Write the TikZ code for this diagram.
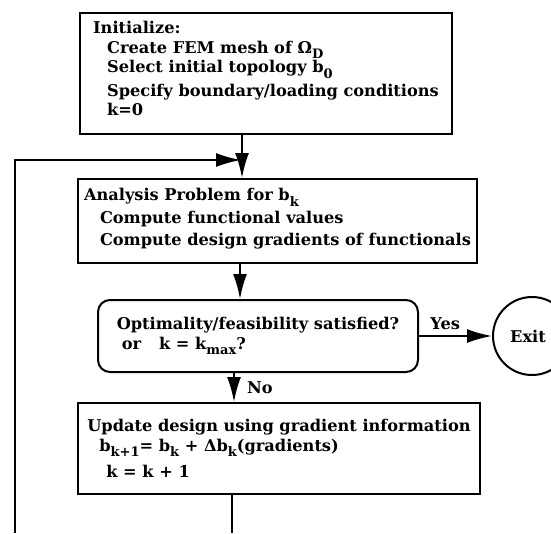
\documentclass[tikz,border=0pt]{standalone}
\usepackage{fontspec}
\setmainfont{DejaVu Serif}
\usetikzlibrary{arrows.meta}
\tikzset{every node/.style={font=\fontsize{16.2}{20.5}\selectfont\bfseries},
 procbox/.style={draw,line width=2pt,align=left,inner sep=0pt},
 testbox/.style={procbox,rounded corners=12pt},
 exitnode/.style={draw,circle,line width=2pt,minimum size=78pt,inner sep=0pt},
 flow/.style={line width=2pt,-{Latex[length=25pt,width=14pt]}},
 plain/.style={line width=2pt},
 tag/.style={inner sep=0pt},
 }
\newcommand{\ind}[1]{\hspace*{#1pt}}
\newcommand{\sub}[1]{\raisebox{-0.33em}{\fontsize{13}{13}\selectfont #1}}
\newcommand{\lowpad}[1]{\rule[-#1pt]{0pt}{#1pt}}

\begin{document}
\begin{tikzpicture}[x=1pt,y=-1pt]
        \useasboundingbox (0,0) rectangle (551,533);
        % boxes
        \node[procbox,minimum width=372pt,minimum height=121pt] (init) at (266,73.5)
            {Initialize:\\[-1pt]
             \ind{14}Create FEM mesh of Ω\sub{D}\\[-1pt]
             \ind{14}Select initial topology b\sub{0}\\[3pt]
             \ind{14}Specify boundary/loading conditions\\[-1pt]
             \ind{14}k=0\lowpad{10}};
        \node[procbox,minimum width=399pt,minimum height=84pt] (ana) at (277.5,221)
            {Analysis Problem for b\sub{k}\\[2pt]
             \ind{16}Compute functional values\\[2pt]
             \ind{16}Compute design gradients of functionals\lowpad{8}};
        \node[testbox,minimum width=320pt,minimum height=72pt] (test) at (258,336)
            {Optimality/feasibility satisfied?\\
             \ind{5}or\hspace{18pt}k = k\sub{max}?};
        \node[procbox,minimum width=402pt,minimum height=91pt] (upd) at (279,448.5)
            {Update design using gradient information\\[-1pt]
             \ind{12}b\sub{k+1}= b\sub{k} + Δb\sub{k}(gradients)\\[6pt]
             \ind{19}k = k + 1};
        \node[exitnode] (exit) at (532,336) {Exit\hspace*{8pt}};
        % connector positions
        \coordinate (c1) at (242,0);
        \coordinate (c2) at (240,0);
        \coordinate (c3) at (234,0);
        \coordinate (c4) at (232,0);
        \coordinate (join) at (241,160);
        \coordinate (loopstart) at (15,533);
        \coordinate (bottomend) at (232,533);
        % connectors
        \draw [flow] (init.south -| c1) -- (ana.north -| c1);
        \draw [flow] (loopstart) |- (join);
        \draw [flow] (ana.south -| c2) -- (test.north -| c2);
        \draw [flow] (test.east) -- (exit.west) node[tag,pos=0.36,above=5pt] (yes) {Yes};
        \draw [flow] (test.south -| c3) -- (upd.north -| c3) node[tag,midway,right=12pt] (no) {No};
        \draw [plain] (upd.south -| c4) -- (bottomend);
    \end{tikzpicture}
\end{document}
